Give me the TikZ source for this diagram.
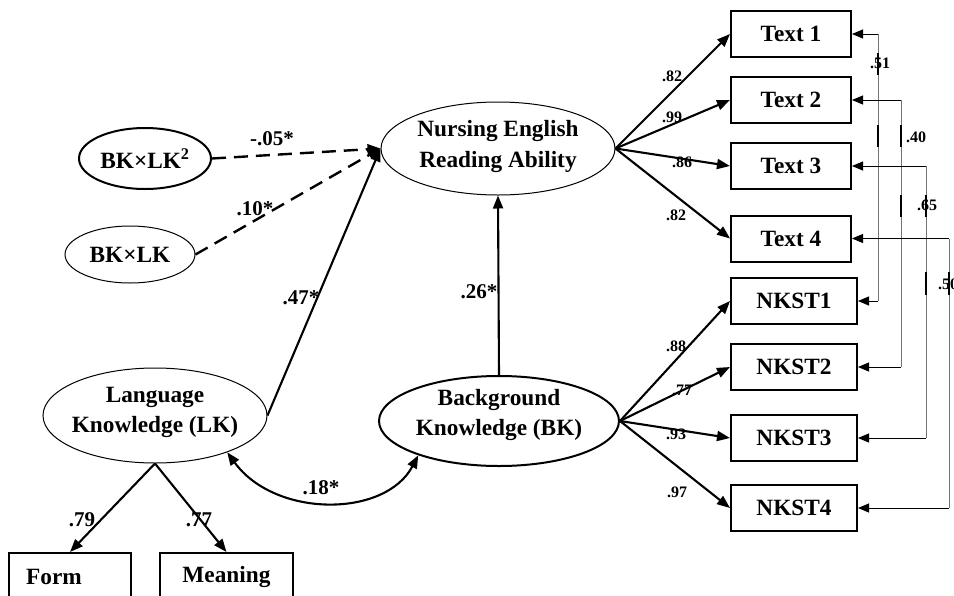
\documentclass[tikz,border=0pt]{standalone}
\usepackage{fontspec}
\setmainfont{Liberation Serif}
\usetikzlibrary{arrows.meta,shapes.geometric}
\begin{document}
\begin{tikzpicture}[x=1pt,y=-1pt,
  font=\bfseries\fontsize{23.3}{30.5}\selectfont,
  ell/.style={draw, ellipse, line width=1pt, inner sep=0pt},
  ellthick/.style={ell, line width=2pt},
  lbl/.style={align=center, inner sep=0pt},
  obs/.style={draw, rectangle, line width=2pt, inner sep=0pt, minimum height=46pt},
  arr/.style={line width=2.1pt, -{Triangle[length=13pt,width=10pt]}},
  darr/.style={arr, line width=2.4pt, dash pattern=on 14pt off 8pt},
  dbl/.style={line width=2.1pt, {Triangle[length=13pt,width=10pt]}-{Triangle[length=13pt,width=10pt]}},
  cov/.style={line width=0.9pt, -{Triangle[length=11pt,width=9pt]}},
  vline/.style={line width=0.9pt, draw=black!55},
  blip/.style={line width=2.2pt},
  big/.style={font=\bfseries\fontsize{21}{24}\selectfont, inner sep=0pt},
  small/.style={font=\bfseries\fontsize{16}{18}\selectfont, inner sep=0pt},
]
\useasboundingbox (0,0) rectangle (954,595);
\clip (0,0) rectangle (954,595);

% latent variables
\node[ell, minimum width=234pt, minimum height=93pt,
  label={[lbl,yshift=2pt]center:{Nursing English\\Reading Ability}}] (NERA) at (498,148.5) {};
\node[ellthick, minimum width=132pt, minimum height=61pt,
  label={[lbl]center:{BK×LK\textsuperscript{2}}}] (BKLK2) at (145,158.5) {};
\node[ell, minimum width=130pt, minimum height=57pt,
  label={[lbl]center:{BK×LK}}] (BKLK) at (130,254.5) {};
\node[ell, minimum width=224pt, minimum height=95pt,
  label={[lbl,yshift=3pt]center:{Language\\Knowledge (LK)}}] (LK) at (155,415.5) {};
\node[ellthick, minimum width=240pt, minimum height=90pt,
  label={[lbl,yshift=6pt]center:{Background\\Knowledge (BK)}}] (BK) at (499,421) {};

% observed variables
\node[obs, minimum width=120pt] (T1) at (791,34) {Text 1};
\node[obs, minimum width=120pt] (T2) at (791,100) {Text 2};
\node[obs, minimum width=120pt] (T3) at (791,166) {Text 3};
\node[obs, minimum width=120pt] (T4) at (791,238.5) {Text 4};
\node[obs, minimum width=126pt] (N1) at (794,301) {NKST1};
\node[obs, minimum width=126pt] (N2) at (794,367) {NKST2};
\node[obs, minimum width=126pt] (N3) at (794,438) {NKST3};
\node[obs, minimum width=126pt] (N4) at (794,508) {NKST4};
\node[obs, minimum width=122pt, minimum height=48pt] (Form) at (70,577) {Form\rule{32pt}{0pt}};
\node[obs, minimum width=133pt, minimum height=48pt] (Mean) at (226.5,577) {Meaning};

% structural paths
\draw[darr] (BKLK2.east) -- (NERA.west);
\draw[darr] (BKLK.east) -- (NERA.west);
\draw[arr] (LK.east) -- (NERA.west);
\draw[arr] (BK.north) -- (NERA.south);
\draw[dbl] (LK.-27) .. controls (275,518) and (385,518) .. (BK.-157);

% measurement paths
\foreach \t in {T1,T2,T3,T4} \draw[arr] (NERA.east) -- (\t.west);
\foreach \n in {N1,N2,N3,N4} \draw[arr] (BK.east) -- (\n.west);
\draw[arr] (LK.south) -- (Form.north);
\draw[arr] (LK.south) -- (Mean.north);

% error covariances
\coordinate (c1) at (878,0);
\coordinate (c2) at (901,0);
\coordinate (c3) at (926,0);
\coordinate (c4) at (949,0);
\draw[vline] (c1 |- T1.east) -- (c1 |- N1.east);
\draw[vline] (c2 |- T2.east) -- (c2 |- N2.east);
\draw[vline] (c3 |- T3.east) -- (c3 |- N3.east);
\draw[vline] (c4 |- T4.east) -- (c4 |- N4.east);
\draw[cov] (c1 |- T1.east) -- (T1.east);
\draw[cov] (c1 |- N1.east) -- (N1.east);
\draw[cov] (c2 |- T2.east) -- (T2.east);
\draw[cov] (c2 |- N2.east) -- (N2.east);
\draw[cov] (c3 |- T3.east) -- (T3.east);
\draw[cov] (c3 |- N3.east) -- (N3.east);
\draw[cov] (c4 |- T4.east) -- (T4.east);
\draw[cov] (c4 |- N4.east) -- (N4.east);
\draw[blip] (878,53) -- (878,75);
\draw[blip] (878,125) -- (878,147);
\draw[blip] (901,125) -- (901,147);
\draw[blip] (901,195) -- (901,217);
\draw[blip] (926,195) -- (926,217);
\draw[blip] (926,272) -- (926,295);
\draw[blip] (949,272) -- (949,295);

% coefficient labels
\node[big] (l05) at (272,139) {-.05*};
\node[big] (l10) at (255,209) {.10*};
\node[big] (l47) at (301,298) {.47*};
\node[big] (l26) at (479,292) {.26*};
\node[big] (l18) at (321,488) {.18*};
\node[big] (l79) at (82,520) {.79};
\node[big] (l77b) at (199,520) {.77};
\node[small] (lt1) at (672,76) {.82};
\node[small] (lt2) at (672,117) {.99};
\node[small] (lt3) at (682,162) {.86};
\node[small] (lt4) at (676,215) {.82};
\node[small] (ln1) at (676,346) {.88};
\node[small] (ln2) at (682,390) {.77};
\node[small] (ln3) at (676,434) {.93};
\node[small] (ln4) at (677,492) {.97};
\node[small] (e1) at (880,63) {.51};
\node[small] (e2) at (916,137) {.40};
\node[small] (e3) at (927,205) {.65};
\node[small, anchor=west] (e4) at (938,284) {.50};
\end{tikzpicture}
\end{document}
